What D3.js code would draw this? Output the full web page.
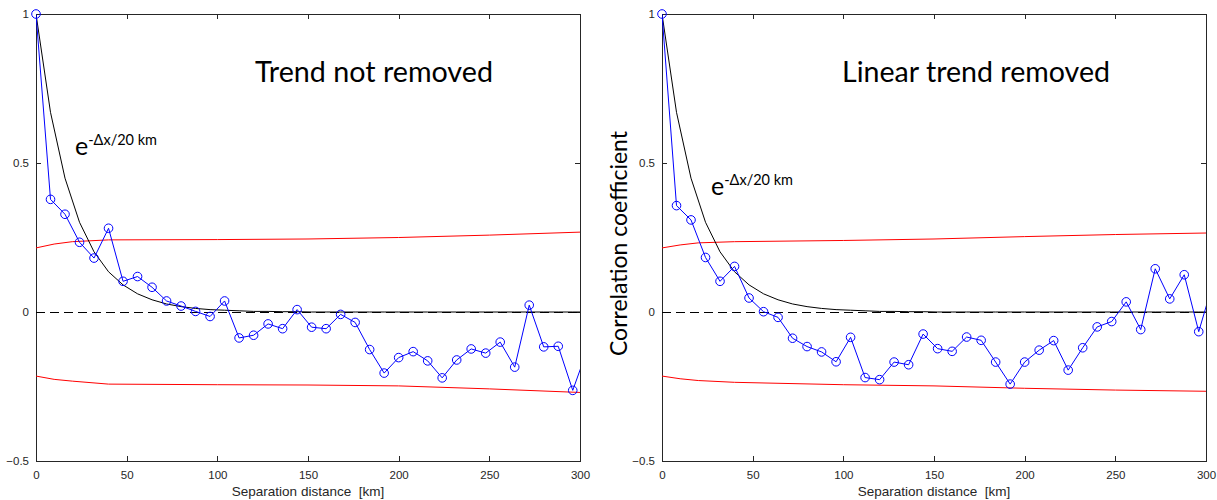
<!DOCTYPE html>
<html>
<head>
<meta charset="utf-8">
<script src="https://cdn.jsdelivr.net/npm/d3@7"></script>
<style>
  body { margin: 0; background: #fff; }
  svg { display: block; }
  .tick text { font-family: "Liberation Sans", Arial, sans-serif; font-size: 11.5px; fill: #262626; }
  .domain, .tick line, .zero { shape-rendering: crispEdges; }
</style>
</head>
<body>
<svg id="chart" width="1217" height="500"></svg>
<script>
// lag distances, 8 km step (last one falls just past the axis and is clipped)
const lags = [0, 8, 16, 24, 32, 40, 48, 56, 64, 72, 80, 88, 96, 104, 112, 120, 128, 136,
  144, 152, 160, 168, 176, 184, 192, 200, 208, 216, 224, 232, 240, 248, 256, 264, 272,
  280, 288, 296, 304];

const corrRaw = [1.0, 0.378, 0.328, 0.234, 0.181, 0.281, 0.103, 0.119, 0.083, 0.037,
  0.020, 0.002, -0.015, 0.037, -0.087, -0.078, -0.040, -0.056, 0.008, -0.051, -0.056,
  -0.008, -0.035, -0.126, -0.205, -0.153, -0.133, -0.164, -0.221, -0.161, -0.124,
  -0.138, -0.101, -0.185, 0.023, -0.117, -0.115, -0.263, -0.127];

const corrDetrended = [1.0, 0.357, 0.309, 0.183, 0.103, 0.153, 0.047, 0.001, -0.018,
  -0.088, -0.116, -0.134, -0.167, -0.085, -0.220, -0.227, -0.168, -0.177, -0.074,
  -0.123, -0.132, -0.084, -0.095, -0.168, -0.242, -0.168, -0.128, -0.096, -0.195,
  -0.120, -0.050, -0.032, 0.034, -0.059, 0.145, 0.044, 0.125, -0.066, 0.100];

// e^(-dx/20 km) read at the same lags
const expModel = [1.0, 0.670, 0.449, 0.301, 0.202, 0.135, 0.091, 0.061, 0.041, 0.027,
  0.018, 0.012, 0.008, 0.006, 0.004, 0.002, 0.002, 0.001, 0.001, 0, 0, 0, 0, 0, 0, 0,
  0, 0, 0, 0, 0, 0, 0, 0, 0, 0, 0, 0, 0];

// significance bounds
const boundLags = [0, 10, 20, 40, 100, 150, 200, 250, 300];
const upperRaw = [0.215, 0.228, 0.236, 0.242, 0.243, 0.245, 0.250, 0.258, 0.268];
const lowerRaw = [-0.215, -0.226, -0.232, -0.242, -0.244, -0.245, -0.248, -0.258, -0.270];
const upperDetrended = [0.215, 0.225, 0.232, 0.236, 0.240, 0.245, 0.253, 0.260, 0.265];
const lowerDetrended = [-0.215, -0.224, -0.230, -0.236, -0.244, -0.248, -0.256, -0.262, -0.266];

const xTicks = [0, 50, 100, 150, 200, 250, 300];
const yTicks = [-0.5, 0, 0.5, 1];

const panels = [
  { left: 36, title: "Trend not removed", titleX: 255, corr: corrRaw,
    upper: upperRaw, lower: lowerRaw, eX: 75, eY: 155, yLabel: false },
  { left: 662, title: "Linear trend removed", titleX: 842, corr: corrDetrended,
    upper: upperDetrended, lower: lowerDetrended, eX: 711, eY: 195, yLabel: true }
];

const W = 544, plotTop = 14, H = 447;
const svg = d3.select("#chart");

const x = d3.scaleLinear().domain([0, 300]).range([0, W]);
const y = d3.scaleLinear().domain([-0.5, 1]).range([H, 0]);

const line = d3.line().x(d => x(d[0])).y(d => y(d[1]));

panels.forEach((p, i) => {
  const g = svg.append("g").attr("transform", `translate(${p.left},${plotTop})`);

  g.append("clipPath").attr("id", `clip${i}`)
    .append("rect").attr("width", W).attr("height", H);

  // axes with inward ticks on all four sides
  const ax = (sel) => sel.select(".domain").attr("stroke", "#262626");
  g.append("g").attr("transform", `translate(0,${H})`)
    .call(d3.axisBottom(x).tickValues(xTicks).tickSizeInner(-5).tickSizeOuter(0).tickPadding(10))
    .call(ax);
  g.append("g")
    .call(d3.axisTop(x).tickValues(xTicks).tickSizeInner(-5).tickSizeOuter(0).tickFormat(""))
    .call(ax);
  g.append("g")
    .call(d3.axisLeft(y).tickValues(yTicks).tickSizeInner(-5).tickSizeOuter(0).tickPadding(7)
      .tickFormat(d => d === 1 ? "1" : d3.format("")(d)))
    .call(ax);
  g.append("g").attr("transform", `translate(${W},0)`)
    .call(d3.axisRight(y).tickValues(yTicks).tickSizeInner(-5).tickSizeOuter(0).tickFormat(""))
    .call(ax);
  g.selectAll(".tick line").attr("stroke", "#262626");

  const plot = g.append("g").attr("clip-path", `url(#clip${i})`);

  // zero line
  plot.append("path").attr("class", "zero")
    .attr("d", line([[0, 0], [300, 0]]))
    .attr("fill", "none").attr("stroke", "#000").attr("stroke-width", 1)
    .attr("stroke-dasharray", "9,5");

  // bounds
  [p.upper, p.lower].forEach(b => {
    plot.append("path")
      .attr("d", line(boundLags.map((l, k) => [l, b[k]])))
      .attr("fill", "none").attr("stroke", "#ff0000").attr("stroke-width", 1);
  });

  // exponential model
  plot.append("path")
    .attr("d", line(lags.map((l, k) => [l, expModel[k]])))
    .attr("fill", "none").attr("stroke", "#000").attr("stroke-width", 1);

  // correlation series
  const pts = lags.map((l, k) => [l, p.corr[k]]);
  plot.append("path")
    .attr("d", line(pts))
    .attr("fill", "none").attr("stroke", "#0000ff").attr("stroke-width", 1);
  // markers are kept whole when their centre lies inside the axes
  g.selectAll("circle.m").data(pts.filter(d => d[0] <= 300)).join("circle")
    .attr("class", "m")
    .attr("cx", d => x(d[0])).attr("cy", d => y(d[1])).attr("r", 4.3)
    .attr("fill", "none").attr("stroke", "#0000ff").attr("stroke-width", 1);

  // titles and labels
  svg.append("text")
    .attr("x", p.titleX).attr("y", 82)
    .attr("font-family", "Lato, 'Open Sans', sans-serif").attr("font-size", 28)
    .attr("textLength", p.title === "Trend not removed" ? 238 : 268)
    .attr("lengthAdjust", "spacingAndGlyphs")
    .text(p.title);

  const eq = svg.append("text")
    .attr("x", p.eX).attr("y", p.eY)
    .attr("font-family", "Lato, 'Open Sans', sans-serif").attr("font-size", 25);
  eq.append("tspan").text("e");
  eq.append("tspan").attr("dy", -10).attr("font-size", 14.5).text("-\u0394x/20 km");

  svg.append("text")
    .attr("x", p.left + W / 2).attr("y", 496)
    .attr("text-anchor", "middle")
    .attr("font-family", "'Liberation Sans', Arial, sans-serif").attr("font-size", 13.5)
    .attr("fill", "#262626")
    .attr("xml:space", "preserve")
    .text("Separation distance  [km]");

  if (p.yLabel) {
    svg.append("text")
      .attr("transform", `translate(627,${plotTop + H / 2 + 6}) rotate(-90)`)
      .attr("text-anchor", "middle")
      .attr("font-family", "Lato, 'Open Sans', sans-serif").attr("font-size", 23)
      .text("Correlation coefficient");
  }
});
</script>
</body>
</html>
